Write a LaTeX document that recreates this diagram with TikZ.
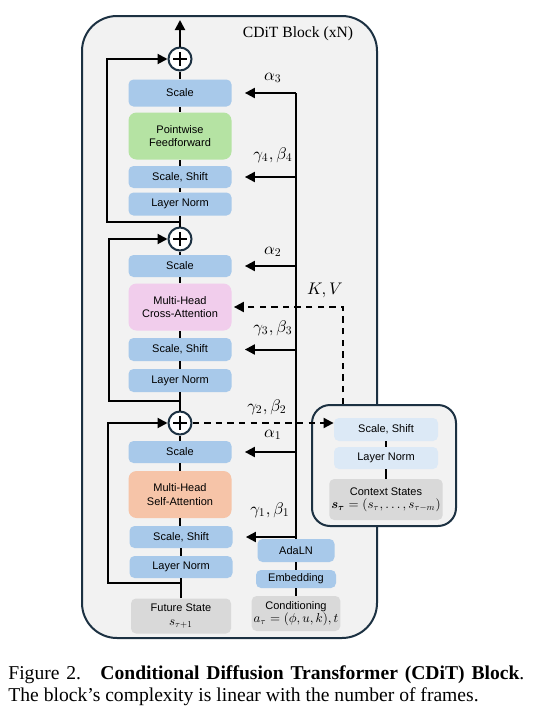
\documentclass[tikz,border=0pt]{standalone}
\usepackage{amsmath}
\usepackage{fontspec}
\setmainfont{Liberation Serif}
\setsansfont{Liberation Sans}
\usetikzlibrary{arrows.meta, positioning, calc}

% scale the math fonts linearly (no wide small-size designs)
\DeclareFontShape{OML}{cmm}{m}{it}{<->cmmi10}{}
\DeclareFontShape{OML}{cmm}{b}{it}{<->cmmib10}{}
\DeclareFontShape{OMS}{cmsy}{m}{n}{<->cmsy10}{}
\DeclareFontShape{OMS}{cmsy}{b}{n}{<->cmbsy10}{}
\DeclareFontShape{OT1}{cmr}{m}{n}{<->cmr10}{}
\DeclareFontShape{OT1}{cmr}{bx}{n}{<->cmbx10}{}

\newcommand{\boxMath}[1]{{\fontsize{6.5}{7}\selectfont$#1$}}

\definecolor{frameNavy}{HTML}{1C3142}
\definecolor{blockGray}{HTML}{F2F2F2}
\definecolor{modBlue}{HTML}{A8C9EA}
\definecolor{ctxBlue}{HTML}{DCE9F6}
\definecolor{ffnGreen}{HTML}{B5E3A3}
\definecolor{crossPink}{HTML}{F1CDEC}
\definecolor{selfOrange}{HTML}{F6C4A8}
\definecolor{inputGray}{HTML}{D9D9D9}

\tikzset{
    opBox/.style={rectangle, rounded corners=2.5pt, fill=modBlue, font=\sffamily\fontsize{5.5}{6.6}\selectfont, align=center, minimum width=51.5pt, minimum height=11pt, inner sep=1pt},
    coreBox/.style={opBox, rounded corners=4pt, minimum height=23.5pt},
    inBox/.style={opBox, fill=inputGray, minimum height=17.5pt},
    sumNode/.style={circle, draw=frameNavy, fill=white, line width=1pt, minimum size=11.5pt, inner sep=0pt,
        path picture={\draw[line width=1pt, black] (path picture bounding box.center) ++(-3.3pt,0) -- ++(6.6pt,0)
            (path picture bounding box.center) ++(0,-3.3pt) -- ++(0,6.6pt);}},
    flowLine/.style={line width=1pt, black},
    modArrow/.style={flowLine, -{Triangle[length=5pt, width=5pt]}},
    ctxArrow/.style={modArrow, dash pattern=on 3.2pt off 2.6pt},
    modLabel/.style={font=\fontsize{8.4}{9}\selectfont},
    frameBox/.style={draw=frameNavy, fill=blockGray, line width=1pt}
}

\begin{document}
\begin{tikzpicture}[x=0.5pt, y=-0.5pt]
    \useasboundingbox (0,0) rectangle (534,718);

    % --- CDiT block frame ---
    \draw[frameBox, rounded corners=17.5pt] (82,16) rectangle (377,638);
    \node[font=\rmfamily\fontsize{7.8}{9}\selectfont] (blockTitle) at (298,34) {CDiT Block (xN)};

    % --- Residual sums ---
    \node[sumNode] (plusC) at (180,59) {};
    \node[sumNode] (plusB) at (180,239) {};
    \node[sumNode] (plusA) at (180,423) {};
    \coordinate (outTop) at (180,20);

    % --- Feedforward stage ---
    \node[opBox, minimum height=13.5pt] (scaleC) at (180,93) {Scale};
    \node[coreBox, fill=ffnGreen] (ffn) at (180,136) {Pointwise\\Feedforward};
    \node[opBox] (ssC) at (180,177) {Scale, Shift};
    \node[opBox, minimum height=11.5pt] (lnC) at (180,204) {Layer Norm};

    % --- Cross-attention stage ---
    \node[opBox] (scaleB) at (180,266) {Scale};
    \node[coreBox, fill=crossPink] (cross) at (180,307) {Multi-Head\\Cross-Attention};
    \node[opBox, minimum height=11.5pt] (ssB) at (180,349.5) {Scale, Shift};
    \node[opBox, minimum height=11.5pt] (lnB) at (180,380.5) {Layer Norm};

    % --- Self-attention stage ---
    \node[opBox] (scaleA) at (180,452) {Scale};
    \node[coreBox, fill=selfOrange] (self) at (180,494.5) {Multi-Head\\Self-Attention};
    \node[opBox] (ssA) at (181,537) {Scale, Shift};
    \node[opBox] (lnA) at (181,567) {Layer Norm};
    \node[inBox, minimum width=50pt] (future) at (181,616) {Future State\\\boxMath{s_{\tau+1}}};

    % --- Conditioning branch ---
    \node[inBox, minimum width=42pt] (cond) at (296,613.5) {Conditioning\\\boxMath{a_\tau=(\phi,u,k),t}};
    \node[opBox, minimum width=40pt, minimum height=9pt] (embed) at (296,579) {Embedding};
    \node[opBox, minimum width=38.5pt, minimum height=11.5pt] (adaln) at (296,550.5) {AdaLN};
    \coordinate (condTop) at (296,93);

    % Main trunk
    \draw[flowLine] (future.north) -- (future.north |- lnA.south);
    \draw[flowLine] (lnA.north) -- (ssA.south);
    \draw[flowLine] (ssA.north -| self.south) -- (self.south);
    \draw[flowLine] (self.north) -- (scaleA.south);
    \draw[flowLine] (scaleA.north) -- (plusA.south);
    \draw[flowLine] (plusA.north) -- (lnB.south);
    \draw[flowLine] (lnB.north) -- (ssB.south);
    \draw[flowLine] (ssB.north) -- (cross.south);
    \draw[flowLine] (cross.north) -- (scaleB.south);
    \draw[flowLine] (scaleB.north) -- (plusB.south);
    \draw[flowLine] (plusB.north) -- (lnC.south);
    \draw[flowLine] (lnC.north) -- (ssC.south);
    \draw[flowLine] (ssC.north) -- (ffn.south);
    \draw[flowLine] (ffn.north) -- (scaleC.south);
    \draw[flowLine] (scaleC.north) -- (plusC.south);
    \draw[modArrow] (plusC.north) -- (outTop);

    % Skip connections
    \coordinate (tapA) at (181,583);  \coordinate (loopA) at (108,583);
    \coordinate (tapB) at (180,401);  \coordinate (loopB) at (109,401);
    \coordinate (tapC) at (180,222);  \coordinate (loopC) at (107,222);
    \draw[modArrow] (tapA) -- (loopA) |- (plusA.west);
    \draw[modArrow] (tapB) -- (loopB) |- (plusB.west);
    \draw[modArrow] (tapC) -- (loopC) |- (plusC.west);

    % Conditioning trunk and modulation arrows
    \draw[flowLine] (cond.north) -- (embed.south);
    \draw[flowLine] (embed.north) -- (adaln.south);
    \draw[flowLine] (adaln.north) -- (condTop);
    \foreach \tgt in {scaleC, ssC, scaleB, ssB, scaleA, ssA} {
        \draw[modArrow] (adaln.north |- \tgt.east) -- ([xshift=6.5pt]\tgt.east);
    }

    \node[modLabel] (lblA3) at (273,78) {$\alpha_3$};
    \node[modLabel] (lblG4) at (273,155) {$\gamma_4,\beta_4$};
    \node[modLabel] (lblA2) at (273,252) {$\alpha_2$};
    \node[modLabel] (lblG3) at (273,328) {$\gamma_3,\beta_3$};
    \node[modLabel] (lblG2) at (267,407) {$\gamma_2,\beta_2$};
    \node[modLabel] (lblA1) at (273,435) {$\alpha_1$};
    \node[modLabel] (lblG1) at (270,510) {$\gamma_1,\beta_1$};
    \node[modLabel] (lblKV) at (325,290) {$K,V$};

    % --- Context encoder ---
    \node[frameBox, rounded corners=9pt, minimum width=72pt, minimum height=60.5pt] (ctxFrame) at (384,465.5) {};
    \node[opBox, fill=ctxBlue, minimum width=52pt, minimum height=11.5pt] (ctxSS) at (386,429.5) {Scale, Shift};
    \node[opBox, fill=ctxBlue, minimum width=52pt] (ctxLN) at (386,458) {Layer Norm};
    \node[inBox, minimum width=52pt, minimum height=20.5pt] (ctxStates) at (386,499.5)
        {Context States\\\boxMath{\boldsymbol{s}_{\boldsymbol{\tau}}=(s_\tau,\ldots,s_{\tau-m})}};
    \draw[flowLine] (ctxStates.north) -- (ctxLN.south);
    \draw[flowLine] (ctxLN.north) -- (ctxSS.south);

    % Context paths (dashed)
    \draw[ctxArrow] (plusA.east) -- (plusA.east -| ctxSS.west);
    \draw[ctxArrow] ([xshift=-20.5pt]ctxFrame.north) |- ([xshift=1pt]cross.east);

    % --- Caption ---
    \node[anchor=base west, inner sep=0pt, align=left, font=\rmfamily\fontsize{9.8}{11}\selectfont] (caption) at (8,701)
        {\makebox[258pt][s]{Figure 2. \ \textbf{Conditional Diffusion Transformer (CDiT) Block}.}\\
         The block's complexity is linear with the number of frames.};

\end{tikzpicture}
\end{document}
